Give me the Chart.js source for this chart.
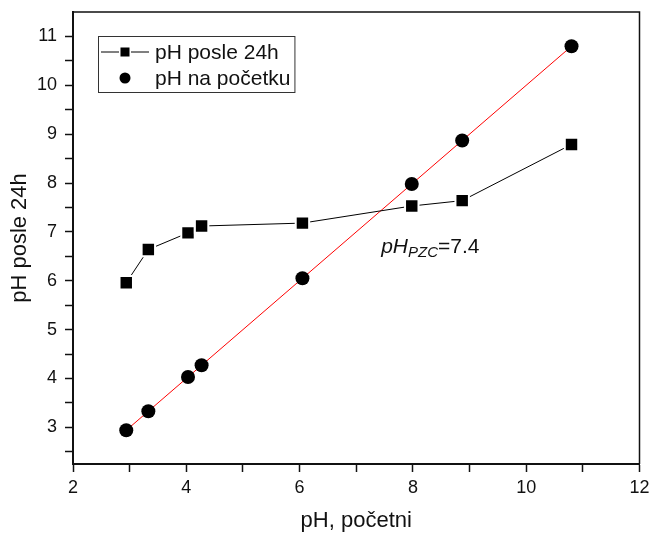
<!DOCTYPE html>
<html>
<head>
<meta charset="utf-8">
<script src="https://cdn.jsdelivr.net/npm/chart.js@4/dist/chart.umd.min.js"></script>
<style>
    html, body { margin: 0; padding: 0; background: #fff; }
    #wrap { width: 651px; height: 536px; }
</style>
</head>
<body>
<div id="wrap"><canvas id="pzcChart"></canvas></div>
<script>
/* pH TACKE NULTOG NAELEKTRISANJA */
const phPocetni = [2.94, 3.33, 4.03, 4.27, 6.05, 7.98, 8.87, 10.8];
const phPosle24h = [5.96, 6.64, 6.98, 7.12, 7.18, 7.53, 7.64, 8.79];
const phNaPocetku = [2.94, 3.33, 4.03, 4.27, 6.05, 7.98, 8.87, 10.8];
const seriesLabels = ["pH posle 24h", "pH na početku"];
const xTickLabels = [2, 4, 6, 8, 10, 12];
const yTickLabels = [3, 4, 5, 6, 7, 8, 9, 10, 11];
const pzcValue = "7.4";

const FONT = "'Liberation Sans', Arial, sans-serif";

function toPoints(xs, ys) {
    return xs.map((x, i) => ({ x: x, y: ys[i] }));
}

// okvir oko grafika (gornja i desna ivica)
const frame = {
    id: "frame",
    afterDatasetsDraw(chart) {
        const { ctx, chartArea: a } = chart;
        ctx.save();
        ctx.strokeStyle = "#111";
        ctx.lineWidth = 1.5;
        ctx.beginPath();
        ctx.moveTo(a.left, a.top);
        ctx.lineTo(a.right, a.top);
        ctx.lineTo(a.right, a.bottom);
        ctx.stroke();
        ctx.restore();
    },
};

// legenda unutar grafika
const boxLegend = {
    id: "boxLegend",
    afterDraw(chart) {
        const { ctx, chartArea: a } = chart;
        const ds = chart.data.datasets;
        const left = a.left + 25, top = a.top + 24;
        const rowH = 26, symW = 51;
        ctx.save();
        ctx.font = "21px " + FONT;
        let textW = 0;
        ds.forEach(d => { textW = Math.max(textW, ctx.measureText(d.label).width); });
        const w = symW + 6 + textW + 4, h = rowH * ds.length + 4;
        ctx.strokeStyle = "#333";
        ctx.lineWidth = 1;
        ctx.strokeRect(left + 0.5, top + 0.5, w, h);
        ds.forEach((d, i) => {
            const cy = top + 16 + i * rowH;
            const cx = left + 27;
            if (i === 0) {
                ctx.strokeStyle = "#000";
                ctx.lineWidth = 1;
                ctx.beginPath();
                ctx.moveTo(left + 3, cy);
                ctx.lineTo(left + symW, cy);
                ctx.stroke();
                ctx.fillStyle = "#fff";
                ctx.fillRect(cx - 6, cy - 6, 12, 12);
                ctx.fillStyle = "#000";
                ctx.fillRect(cx - 4.5, cy - 4.5, 9, 9);
            } else {
                ctx.fillStyle = "#000";
                ctx.beginPath();
                ctx.arc(cx, cy, 5.5, 0, Math.PI * 2);
                ctx.fill();
            }
            ctx.fillStyle = "#111";
            ctx.textBaseline = "middle";
            ctx.textAlign = "left";
            ctx.fillText(d.label, left + symW + 6, cy + 1);
        });
        ctx.restore();
    },
};

// oznaka pH_PZC
const pzcLabel = {
    id: "pzcLabel",
    afterDraw(chart) {
        const { ctx, scales } = chart;
        let x = scales.x.getPixelForValue(7.44);
        const y = scales.y.getPixelForValue(6.57);
        ctx.save();
        ctx.fillStyle = "#111";
        ctx.textBaseline = "alphabetic";
        ctx.textAlign = "left";
        ctx.font = "italic 21px " + FONT;
        ctx.fillText("pH", x, y);
        x += ctx.measureText("pH").width;
        ctx.font = "italic 15px " + FONT;
        ctx.fillText("PZC", x, y + 4);
        x += ctx.measureText("PZC").width;
        ctx.font = "21px " + FONT;
        ctx.fillText("=" + pzcValue, x, y);
        ctx.restore();
    },
};

const ctx = document.getElementById("pzcChart");

new Chart(ctx, {
    type: "scatter",
    data: {
        datasets: [
            {
                label: seriesLabels[0],
                data: toPoints(phPocetni, phPosle24h),
                showLine: true,
                borderColor: "#000",
                borderWidth: 1,
                pointStyle: "rect",
                pointRadius: 9.5,
                pointBackgroundColor: "#000",
                pointBorderColor: "#fff",
                pointBorderWidth: 2,
                pointHoverRadius: 9.5,
            },
            {
                label: seriesLabels[1],
                data: toPoints(phPocetni, phNaPocetku),
                showLine: true,
                borderColor: "#ff0000",
                borderWidth: 1,
                pointStyle: "circle",
                pointRadius: 7,
                pointBackgroundColor: "#000",
                pointBorderColor: "#000",
                pointBorderWidth: 0,
                pointHoverRadius: 7,
            },
        ],
    },
    options: {
        responsive: true,
        maintainAspectRatio: false,
        animation: false,
        events: [],
        layout: {
            padding: { left: 0, right: 10, top: 12, bottom: 0 },
        },
        plugins: {
            legend: { display: false },
            tooltip: { enabled: false },
        },
        scales: {
            x: {
                type: "linear",
                min: 2,
                max: 12,
                afterFit: scale => {
                    scale.height = 72;
                    scale.paddingLeft = 0;
                    scale.paddingRight = 0;
                },
                afterBuildTicks: scale => {
                    const t = [];
                    for (let v = 2; v <= 12; v++) t.push({ value: v });
                    scale.ticks = t;
                },
                ticks: {
                    color: "#111",
                    padding: 5,
                    maxRotation: 0,
                    font: { family: FONT, size: 18 },
                    callback: v => (xTickLabels.includes(v) ? String(v) : ""),
                },
                grid: {
                    drawOnChartArea: false,
                    drawTicks: true,
                    tickLength: 8,
                    tickColor: "#111",
                    tickWidth: 1.5,
                },
                border: { display: true, color: "#111", width: 2 },
                title: {
                    display: true,
                    text: "pH, početni",
                    color: "#111",
                    font: { family: FONT, size: 22 },
                    padding: { top: 0, bottom: 2 },
                },
            },
            y: {
                type: "linear",
                min: 2.25,
                max: 11.5,
                afterFit: scale => {
                    scale.width = 73;
                    scale.paddingTop = 0;
                    scale.paddingBottom = 0;
                },
                afterBuildTicks: scale => {
                    const t = [];
                    for (let v = 2.5; v <= 11; v += 0.5) t.push({ value: v });
                    scale.ticks = t;
                },
                ticks: {
                    color: "#111",
                    padding: 8,
                    font: { family: FONT, size: 18 },
                    callback: v => (yTickLabels.includes(v) ? String(v) : ""),
                },
                grid: {
                    drawOnChartArea: false,
                    drawTicks: true,
                    tickLength: 8,
                    tickColor: "#111",
                    tickWidth: 1.5,
                },
                border: { display: true, color: "#111", width: 2 },
                title: {
                    display: true,
                    text: "pH posle 24h",
                    color: "#111",
                    font: { family: FONT, size: 22 },
                    padding: { top: 7, bottom: 0 },
                },
            },
        },
    },
    plugins: [frame, boxLegend, pzcLabel],
});
</script>
</body>
</html>
